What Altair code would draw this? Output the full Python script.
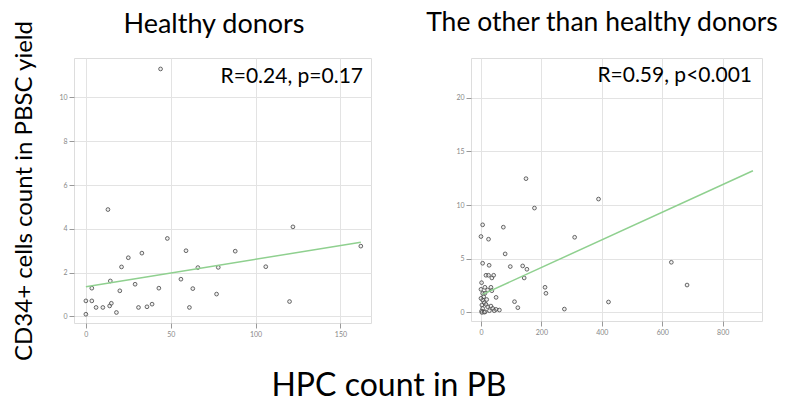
import altair as alt
import pandas as pd

# ---- data ----
hd_x = [0, 0, 3.5, 3.5, 6, 10, 13, 14, 15, 14.4, 18, 20, 21, 25, 29, 31, 33, 36, 39, 43,
        44, 48, 56, 59, 61, 63, 66, 77, 78, 88, 106, 120, 122, 162]
hd_y = [0.1, 0.71, 0.71, 1.29, 0.41, 0.41, 4.88, 0.48, 0.6, 1.62, 0.18, 1.17, 2.26, 2.68, 1.47,
        0.41, 2.89, 0.44, 0.56, 1.29, 11.3, 3.56, 1.7, 3.0, 0.41, 1.27, 2.23, 1.02, 2.24, 2.98,
        2.27, 0.68, 4.09, 3.21]

ot_x = [5.5, 0, 25, 74, 80, 149, 177, 389, 310, 5.5, 27, 97, 138, 152, 143, 16.5, 25, 42, 36,
        2, 13, 33, 0, 22, 36, 50, 212, 215, 111, 122, 276, 422, 630, 682,
        5.5, 9, 5.5, 11, 3, 5.5, 2, 14, 22, 33, 39, 50, 61, 44, 28, 16.5, 0, 19, 13, 3, 11]
ot_y = [8.16, 7.07, 6.82, 7.94, 5.45, 12.46, 9.72, 10.56, 7.0, 4.58, 4.39, 4.27, 4.33, 4.02,
        3.21, 3.46, 3.46, 3.46, 3.21, 2.77, 2.34, 2.34, 2.15, 2.09, 2.02, 1.4, 2.34, 1.78, 1.0,
        0.44, 0.31, 0.97, 4.67, 2.55,
        1.78, 1.46, 1.15, 0.9, 0.69, 0.37, 0.12, 0.06, 0.53, 0.59, 0.37, 0.28, 0.22, 0.16, 0.16,
        0.75, 1.31, 1.2, 1.78, 0.0, 0.02]

hd_fit_x = [0, 162]
hd_fit_y = [1.35, 3.39]
ot_fit_x = [5.5, 900]
ot_fit_y = [1.68, 13.2]

hd_xticks = [0, 50, 100, 150]
hd_yticks = [0, 2, 4, 6, 8, 10]
ot_xticks = [0, 200, 400, 600, 800]
ot_yticks = [0, 5, 10, 15, 20]

titles = ["Healthy donors", "The other than healthy donors"]
annotations = ["R=0.24, p=0.17", "R=0.59, p<0.001"]
y_title = "CD34+ cells count in PBSC yield"
x_title = "HPC count in PB"

FONT = "Lato"


def label(txt, x, y, size, align="center"):
    return alt.Chart(pd.DataFrame({"t": [txt]})).mark_text(
        align=align, baseline="alphabetic", font=FONT, fontSize=size, color="#000000"
    ).encode(text="t:N", x=alt.value(x), y=alt.value(y))


def panel(px, py, fx, fy, xdom, ydom, xt, yt, w, h, ytitle, extra):
    pts = pd.DataFrame({"x": px, "y": py})
    fit = pd.DataFrame({"x": fx, "y": fy})
    axis_common = dict(labelFont=FONT, labelFontSize=7, labelColor="#888888",
                       tickColor="#999999", tickSize=5, labelPadding=2,
                       gridColor="#e3e3e3", gridWidth=1, domain=False)
    xenc = alt.X("x:Q", scale=alt.Scale(domain=xdom, nice=False, zero=False),
                 axis=alt.Axis(values=xt, title=None, **axis_common))
    if ytitle:
        yaxis = alt.Axis(values=yt, title=ytitle, titleFont=FONT, titleFontSize=24,
                         titleFontWeight="normal", titleColor="#000000",
                         titlePadding=22, **axis_common)
    else:
        yaxis = alt.Axis(values=yt, title=None, **axis_common)
    yenc = alt.Y("y:Q", scale=alt.Scale(domain=ydom, nice=False, zero=False), axis=yaxis)

    points = alt.Chart(pts).mark_point(
        shape="circle", size=14, filled=False, stroke="#444444",
        strokeWidth=0.8, fill="#cccccc", fillOpacity=0.3
    ).encode(x=xenc, y=yenc)
    line = alt.Chart(fit).mark_line(color="#8fd08f", strokeWidth=1.5).encode(x="x:Q", y="y:Q")
    return alt.layer(points, line, *extra).properties(width=w, height=h)


left = panel(hd_x, hd_y, hd_fit_x, hd_fit_y, [-7, 168], [-0.3, 11.8], hd_xticks, hd_yticks,
             297, 265, y_title,
             [label(titles[0], 140, -25, 27),
              label(annotations[0], 289, 25, 21, "right"),
              label(x_title, 315, 338, 32)])
right = panel(ot_x, ot_y, ot_fit_x, ot_fit_y, [-33, 930], [-0.8, 23.7], ot_xticks, ot_yticks,
              291, 263, None,
              [label(titles[1], 131, -27, 26.5),
               label(annotations[1], 281, 24, 21, "right")])

chart = alt.hconcat(left, right, spacing=100, bounds="flush").properties(
    padding={"left": 4, "top": 1, "right": 3, "bottom": 0},
).configure_view(stroke="#999999", strokeWidth=1.5).configure(background="white")

chart.save("out.html", embed_options={"renderer": "svg", "actions": False})
